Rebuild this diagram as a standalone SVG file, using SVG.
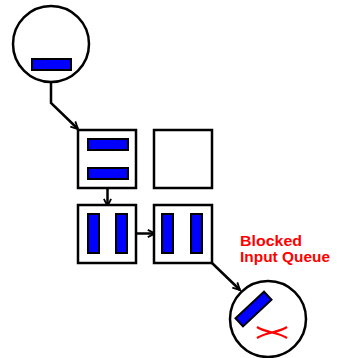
<svg xmlns="http://www.w3.org/2000/svg" width="337" height="358" viewBox="0 0 337 358">
  <style>
    .frame { fill: #ffffff; stroke: #000000; stroke-width: 2.5; }
    .bar { fill: #0000ff; stroke: #000000; stroke-width: 2; }
    .link { fill: none; stroke: #000000; stroke-width: 2.5; }
    .label { font-family: "Liberation Sans", Arial, sans-serif; font-weight: bold; font-size: 14.5px; fill: #ff0000; }
    .cross { fill: none; stroke: #ff0000; stroke-width: 2.2; }
  </style>
  <defs>
    <marker id="chevron" viewBox="0 0 10 10" refX="9" refY="5" markerWidth="9" markerHeight="9" markerUnits="userSpaceOnUse" orient="auto">
      <path d="M1,1 L9,5 L1,9" fill="none" stroke="#000000" stroke-width="2"/>
    </marker>
  </defs>
  <rect width="337" height="358" fill="#ffffff"/>

  <g id="connectors">
    <polyline class="link" points="51,82 51,103 78,129" marker-end="url(#chevron)"/>
    <line class="link" x1="107.5" y1="188" x2="107.5" y2="206" marker-end="url(#chevron)"/>
    <line class="link" x1="136" y1="233.5" x2="155" y2="233.5" marker-end="url(#chevron)"/>
    <line class="link" x1="212" y1="263" x2="240" y2="290" marker-end="url(#chevron)"/>
  </g>

  <g id="source">
    <circle class="frame" cx="51" cy="44" r="38"/>
    <rect class="bar" x="32" y="59" width="39" height="11"/>
  </g>

  <g id="queue-a">
    <rect class="frame" x="78" y="130" width="58" height="58"/>
    <rect class="bar" x="88" y="139" width="40" height="11"/>
    <rect class="bar" x="88" y="168" width="40" height="11"/>
  </g>

  <g id="queue-b">
    <rect class="frame" x="154" y="130" width="58" height="58"/>
  </g>

  <g id="queue-c">
    <rect class="frame" x="78" y="205" width="58" height="58"/>
    <rect class="bar" x="88" y="214" width="11" height="39"/>
    <rect class="bar" x="116" y="214" width="11" height="39"/>
  </g>

  <g id="queue-d">
    <rect class="frame" x="154" y="205" width="58" height="58"/>
    <rect class="bar" x="162" y="214" width="11" height="39"/>
    <rect class="bar" x="191" y="214" width="11" height="39"/>
  </g>

  <g id="blocked-input">
    <circle class="frame" cx="268" cy="319" r="38"/>
    <rect class="bar" x="234" y="303.5" width="39" height="11" transform="rotate(-43 253.5 309)"/>
    <path class="cross" d="M257,327 C266,333 278,332 287,338 M257,338 C266,332 278,333 287,327"/>
  </g>

  <g id="blocked-label">
    <text class="label" x="240" y="246" textLength="62" lengthAdjust="spacingAndGlyphs">Blocked</text>
    <text class="label" x="240" y="262" textLength="90" lengthAdjust="spacingAndGlyphs">Input Queue</text>
  </g>
</svg>
